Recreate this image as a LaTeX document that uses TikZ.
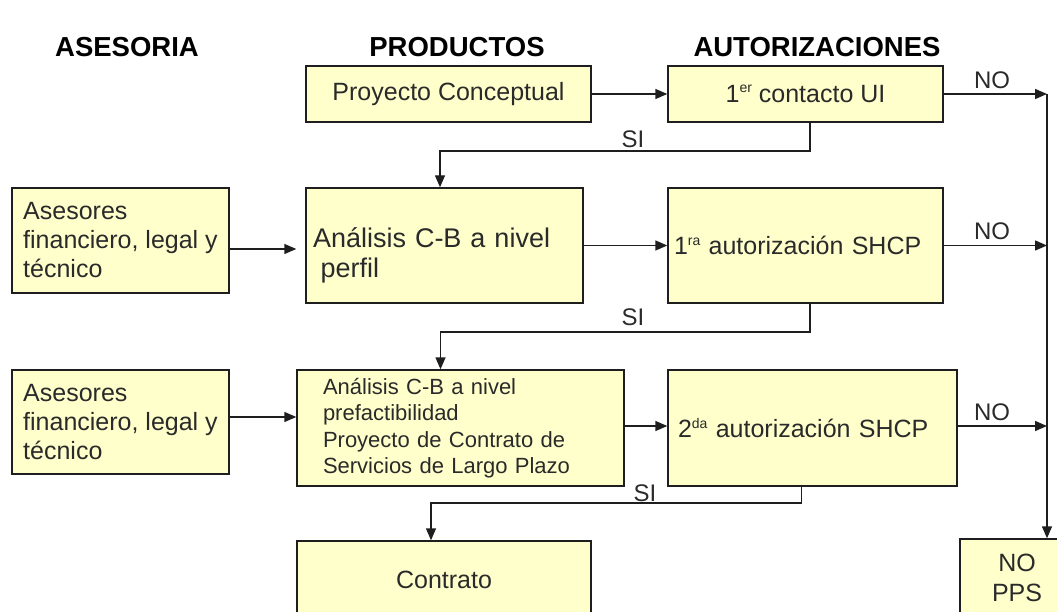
\documentclass[tikz,border=0pt]{standalone}
\usepackage{fontspec}
\setmainfont{Liberation Sans}
\usetikzlibrary{arrows.meta}
\definecolor{boxfill}{HTML}{FFFFCC}
\definecolor{ink}{HTML}{1E1E1E}
\definecolor{textc}{HTML}{2A2A2A}
\newcommand\supx[1]{\raisebox{9.5pt}{\fontsize{14}{14}\selectfont #1}}
\begin{document}
\begin{tikzpicture}[x=1pt,y=-1pt,
  box/.style={draw=ink, fill=boxfill, line width=1.4pt, text=textc,
    font=\fontsize{25}{29}\selectfont, inner sep=0pt},
  hdr/.style={font=\bfseries\fontsize{27.5}{30}\selectfont, text=black},
  lbl/.style={font=\fontsize{24}{26}\selectfont, text=textc, inner sep=0pt},
  conn/.style={draw=ink, line width=1.4pt},
  arr/.style={conn, -{Triangle[length=12pt,width=10pt]}}]
\clip (0,0) rectangle (1057,612);
% headers
\node[hdr] (h1) at (127,47) {ASESORIA};
\node[hdr] (h2) at (457,47) {PRODUCTOS};
\node[hdr] (h3) at (817,47) {AUTORIZACIONES};
% boxes
\node[box, minimum width=285, minimum height=56] (pc) at (448.5,94) {Proyecto Conceptual};
\node[box, minimum width=275, minimum height=56] (c1) at (805.5,94) {1\supx{er} contacto UI};
\node[box, minimum width=217, minimum height=105, align=left] (as1) at (120.5,240.5) {Asesores\\financiero, legal y\\técnico};
\node[box, minimum width=277, minimum height=115, text width=263, align=left, font=\fontsize{27}{30}\selectfont] (ap) at (444.5,245.5) {\rule{0pt}{40pt}Análisis C-B a nivel\\\hspace*{0.28em}perfil};
\node[box, minimum width=275, minimum height=115, text width=263, align=left] (a1) at (805.5,245.5) {1\supx{ra} autorización SHCP};
\node[box, minimum width=217, minimum height=104, align=left] (as2) at (120.5,422) {Asesores\\financiero, legal y\\técnico};
\node[box, minimum width=327, minimum height=116, text width=275, align=left, font=\fontsize{22}{26.5}\selectfont] (apf) at (460.5,428) {Análisis C-B a nivel\\prefactibilidad\\Proyecto de Contrato de\\Servicios de Largo Plazo};
\node[box, minimum width=289, minimum height=116, text width=269, align=left] (a2) at (812.5,428) {2\supx{da} autorización SHCP};
\node[box, minimum width=294, minimum height=78] (ct) at (444,580) {Contrato};
\node[box, minimum width=114, minimum height=78, align=center, font=\fontsize{25}{30}\selectfont] (np) at (1017,578) {NO\\PPS};
% junctions on the NO bus
\coordinate (j1) at (1047,94);
\coordinate (j2) at (1047,245.5);
\coordinate (j3) at (1047,426);
% connectors
\draw[arr] (pc) -- (c1);
\draw[arr] (c1.east) -- (j1);
\draw[arr] (a1.east) -- (j2);
\draw[arr] (a2.east |- j3) -- (j3);
\draw[arr] (j1) -- (j1 |- np.north);
\draw[arr] (ap) -- (a1);
\draw[arr] (apf.east |- j3) -- (a2.west |- j3);
\draw[arr] ([yshift=-8.5pt]as1.east) -- ([yshift=-8.5pt,xshift=-9pt]as1.east -| ap.west);
\draw[arr] ([yshift=5pt]as2.east) -- ([yshift=5pt]as2.east -| apf.west);
\draw[arr] ([xshift=4.5pt]c1.south) -- ([xshift=4.5pt]c1.south |- 0,151) -| ([xshift=-4.5pt]ap.north);
\draw[arr] ([xshift=4.5pt]a1.south) -- ([xshift=4.5pt]a1.south |- 0,332) -| ([xshift=-20pt]apf.north);
\draw[arr] ([xshift=-11pt]a2.south) -- ([xshift=-11pt]a2.south |- 0,503) -| ([xshift=-13pt]ct.north);
% labels
\node[lbl] (si1) at (633,139) {SI};
\node[lbl] (si2) at (633,317) {SI};
\node[lbl] (si3) at (645,493) {SI};
\node[lbl] (no1) at (992,80) {NO};
\node[lbl] (no2) at (992,231) {NO};
\node[lbl] (no3) at (992,412) {NO};
\end{tikzpicture}
\end{document}
